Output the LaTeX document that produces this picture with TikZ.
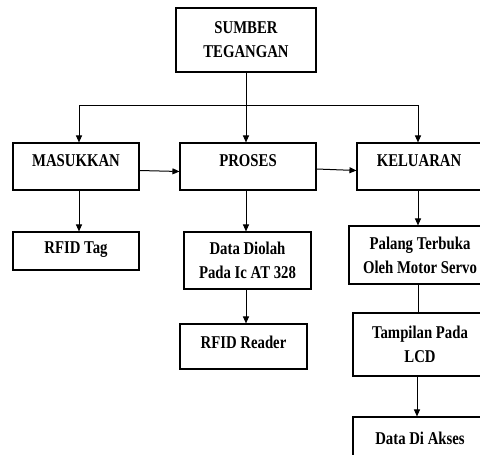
\documentclass[tikz,border=0pt]{standalone}
\usepackage{fontspec}
\setmainfont{Liberation Serif}[FakeStretch=0.82]
\usetikzlibrary{arrows.meta}
\begin{document}
\begin{tikzpicture}[x=1pt,y=-1pt,
  box/.style={draw, line width=1.1pt, inner sep=0pt, font=\fontsize{18}{24}\selectfont\bfseries, align=center},
  conn/.style={line width=1pt},
  arr/.style={conn, -{Triangle[length=7pt,width=6pt]}}]
\useasboundingbox (0,0) rectangle (480,455);
\fill[white] (0,0) rectangle (480,455);
\node[box, minimum width=140pt, minimum height=64pt] (sumber) at (246,40) {SUMBER\\TEGANGAN};
\node[box, minimum width=126pt, minimum height=47pt] (masuk) at (76,166.5) {MASUKKAN\\[-13pt]};
\node[box, minimum width=136pt, minimum height=47pt] (proses) at (248,166.5) {PROSES\\[-13pt]};
\node[box, minimum width=124pt, minimum height=47pt] (kel) at (419,166.5) {KELUARAN\\[-13pt]};
\node[box, minimum width=126pt, minimum height=38pt] (tag) at (76,251) {RFID Tag\\[-18pt]};
\node[box, minimum width=127pt, minimum height=57pt] (data) at (247.5,260.5) {Data Diolah\\Pada Ic AT 328};
\node[box, minimum width=127pt, minimum height=45pt] (reader) at (243.5,346.5) {RFID Reader\\[-16pt]};
\node[box, minimum width=142pt, minimum height=58pt] (palang) at (420,255) {Palang Terbuka\\Oleh Motor Servo};
\node[box, minimum width=134pt, minimum height=63pt] (lcd) at (420,344.5) {Tampilan Pada\\LCD};
\node[box, minimum width=134pt, minimum height=42pt] (akses) at (420,438) {Data Di Akses};
\coordinate (busL) at (79,105);
\coordinate (busM) at (246,105);
\coordinate (busR) at (418,105);
\coordinate (colR) at (417,0);
\draw[conn] (sumber.south) -- (busM);
\draw[conn] (busL) -- (busR);
\draw[arr] (busL) -- (busL |- masuk.north);
\draw[arr] (busM) -- (busM |- proses.north);
\draw[arr] (busR) -- (busR |- kel.north);
\draw[arr] ([yshift=-4pt]masuk.east) -- ([yshift=-5pt]proses.west);
\draw[arr] ([yshift=-2.5pt]proses.east) -- ([yshift=-4pt]kel.west);
\draw[arr] (busL |- masuk.south) -- (busL |- tag.north);
\draw[arr] (busM |- proses.south) -- (busM |- data.north);
\draw[arr] (busM |- data.south) -- (busM |- reader.north);
\draw[arr] (busR |- kel.south) -- (busR |- palang.north);
\draw[conn] (busR |- palang.south) -- (busR |- lcd.north);
\draw[arr] (colR |- lcd.south) -- (colR |- akses.north);
\end{tikzpicture}
\end{document}
